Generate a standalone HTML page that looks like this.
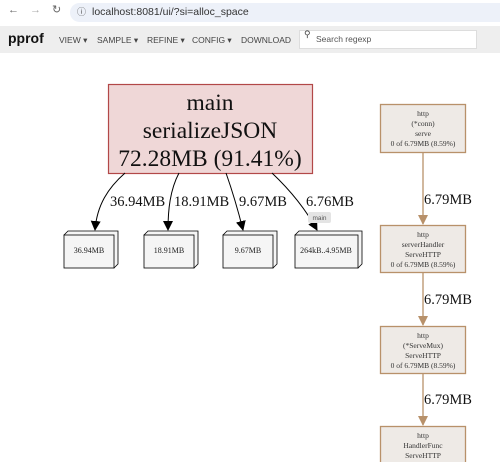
<!DOCTYPE html>
<html><head><style>
body{margin:0;width:500px;height:462px;overflow:hidden;background:#fff;font-family:"Liberation Sans",sans-serif;position:relative}
.bar{position:absolute;left:0;top:0;width:500px;height:25px;background:#fff}
.url{position:absolute;left:70px;top:3px;width:430px;height:19px;background:#edf1f9;border-radius:10px 0 0 10px;font-size:10.5px;color:#333;line-height:19px;padding-left:22px;box-sizing:border-box}
.tb{position:absolute;left:0;top:26px;width:500px;height:27px;background:#eee}
.tb span{position:absolute;top:9px;font-size:8.5px;color:#444}
.srch{position:absolute;left:299px;top:4px;width:178px;height:19px;background:#fff;border:1px solid #ddd;box-sizing:border-box;font-size:8.5px;color:#555;line-height:17px;padding-left:16px}
</style></head><body>
<div class="bar">
<span style="position:absolute;left:8px;top:4px;font-size:11px;color:#666">←</span>
<span style="position:absolute;left:30px;top:4px;font-size:11px;color:#aaa">→</span>
<span style="position:absolute;left:52px;top:3px;font-size:11px;color:#666">↻</span>
<div class="url"><span style="position:absolute;left:7px;font-size:9px;color:#555">ⓘ</span>localhost:8081/ui/?si=alloc_space</div>
</div>
<div class="tb">
<span style="left:8px;top:4px;font-size:14px;font-weight:bold;color:#111">pprof</span>
<span style="left:59px">VIEW ▾</span>
<span style="left:97px">SAMPLE ▾</span>
<span style="left:147px">REFINE ▾</span>
<span style="left:192px">CONFIG ▾</span>
<span style="left:241px">DOWNLOAD</span>
<div class="srch"><span style="position:absolute;left:4px;top:-5px;font-size:9px">⚲</span>Search regexp</div>
</div>
<svg width="500" height="462" style="position:absolute;left:0;top:0" font-family="Liberation Serif,serif">
<defs><marker id="a" markerWidth="10" markerHeight="10" refX="9" refY="5" orient="auto" markerUnits="userSpaceOnUse"><path d="M0,0 L10,5 L0,10z" fill="#000"/></marker>
<marker id="b" markerWidth="10" markerHeight="10" refX="9" refY="5" orient="auto" markerUnits="userSpaceOnUse"><path d="M0,0 L10,5 L0,10z" fill="#b8916a"/></marker></defs>
<rect x="108.5" y="84.5" width="204" height="89" fill="#efd7d7" stroke="#b24848" stroke-width="1.2"/>
<g font-size="23.5" text-anchor="middle" fill="#111"><text x="210" y="110">main</text><text x="210" y="138">serializeJSON</text><text x="210" y="166">72.28MB (91.41%)</text></g>
<g fill="none" stroke="#000" stroke-width="1">
<path d="M125,173 C108,188 97,205 95,230" marker-end="url(#a)"/>
<path d="M179,173 C170,190 168,210 168,230" marker-end="url(#a)"/>
<path d="M226,173 C232,190 238,210 243,230" marker-end="url(#a)"/>
<path d="M272,173 C290,190 305,208 317,230" marker-end="url(#a)"/>
</g>
<g font-size="14.5" fill="#111"><text x="110" y="206">36.94MB</text><text x="174" y="206">18.91MB</text><text x="239" y="206">9.67MB</text><text x="306" y="206">6.76MB</text></g>
<g stroke="#000" stroke-width="0.8" fill="#f5f5f5">
<path d="M64,235 l4,-4 h50 v33 l-4,4z"/><rect x="64" y="235" width="50" height="33"/>
<path d="M144,235 l4,-4 h50 v33 l-4,4z"/><rect x="144" y="235" width="50" height="33"/>
<path d="M223,235 l4,-4 h50 v33 l-4,4z"/><rect x="223" y="235" width="50" height="33"/>
<path d="M295,235 l4,-4 h63 v33 l-4,4z"/><rect x="295" y="235" width="63" height="33"/>
</g>
<g font-size="8" text-anchor="middle" fill="#222"><text x="89" y="253">36.94MB</text><text x="169" y="253">18.91MB</text><text x="248" y="253">9.67MB</text><text x="326" y="253">264kB..4.95MB</text></g>
<rect x="308" y="212" width="23" height="11" rx="2" fill="#e4e4e4"/><text x="319.5" y="220" font-family="Liberation Sans,sans-serif" font-size="6.5" text-anchor="middle" fill="#555">main</text>
<g stroke="#b8916a" stroke-width="1.3" fill="#eeeae6">
<rect x="380.5" y="104.5" width="85" height="48"/><rect x="380.5" y="225.5" width="85" height="47"/><rect x="380.5" y="326.5" width="85" height="47"/><rect x="380.5" y="426.5" width="85" height="40"/>
</g>
<g stroke="#b8916a" stroke-width="1.3"><line x1="423" y1="153" x2="423" y2="224" marker-end="url(#b)"/><line x1="423" y1="273" x2="423" y2="325" marker-end="url(#b)"/><line x1="423" y1="374" x2="423" y2="425" marker-end="url(#b)"/></g>
<g font-size="14.5" fill="#111"><text x="424" y="204">6.79MB</text><text x="424" y="304">6.79MB</text><text x="424" y="404">6.79MB</text></g>
<g font-size="7.5" text-anchor="middle" fill="#333">
<text x="423" y="116">http</text><text x="423" y="126">(*conn)</text><text x="423" y="136">serve</text><text x="423" y="146">0 of 6.79MB (8.59%)</text>
<text x="423" y="237">http</text><text x="423" y="247">serverHandler</text><text x="423" y="257">ServeHTTP</text><text x="423" y="267">0 of 6.79MB (8.59%)</text>
<text x="423" y="338">http</text><text x="423" y="348">(*ServeMux)</text><text x="423" y="358">ServeHTTP</text><text x="423" y="368">0 of 6.79MB (8.59%)</text>
<text x="423" y="438">http</text><text x="423" y="448">HandlerFunc</text><text x="423" y="458">ServeHTTP</text>
</g>
</svg>
</body></html>
